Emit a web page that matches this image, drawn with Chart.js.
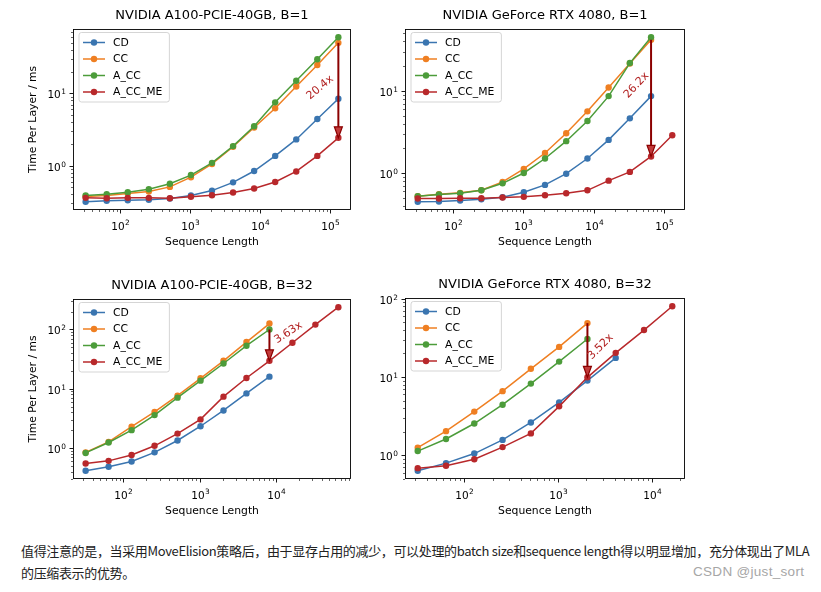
<!DOCTYPE html>
<html>
<head>
<meta charset="utf-8">
<script src="https://cdn.jsdelivr.net/npm/chart.js@4.4.1/dist/chart.umd.min.js"></script>
<style>
    body { margin: 0; background: #fff; }
    #page { position: relative; width: 821px; height: 592px; overflow: hidden; }
    #page canvas { position: absolute; }
    .note { position: absolute; left: 21px; top: 540px; font: 13px "Noto Sans CJK SC", sans-serif; line-height: 21.5px; letter-spacing: -0.35px; color: #222; white-space: nowrap; }
    .mark { position: absolute; left: 693px; top: 564px; font: 13.5px "Liberation Sans", sans-serif; letter-spacing: 0.3px; color: #a6a6a6; }
</style>
</head>
<body>
<div id="page">
    <div class="note">值得注意的是，当采用MoveElision策略后，由于显存占用的减少，可以处理的batch size和sequence length得以明显增加，充分体现出了MLA<br>的压缩表示的优势。</div>
    <div class="mark">CSDN @just_sort</div>
</div>
<script>
// sequence lengths (x)
var seqLen = [32, 64, 128, 256, 512, 1024, 2048, 4096, 8192, 16384, 32768, 65536, 131072];

var seriesNames = ['CD', 'CC', 'A_CC', 'A_CC_ME'];
var seriesColors = ['#3a75b0', '#ef7f22', '#4c9c3a', '#b8282b'];

// A100, B=1
var a100B1_CD = [0.315, 0.325, 0.33, 0.336, 0.35, 0.385, 0.45, 0.585, 0.84, 1.36, 2.3, 4.4, 8.4];
var a100B1_CC = [0.372, 0.385, 0.41, 0.437, 0.506, 0.69, 1.05, 1.82, 3.36, 6.2, 12.4, 24.7, 50];
var a100B1_ACC = [0.385, 0.40, 0.427, 0.469, 0.56, 0.738, 1.09, 1.86, 3.5, 7.5, 14.9, 29.6, 59.8];
var a100B1_ME = [0.357, 0.353, 0.357, 0.357, 0.353, 0.369, 0.388, 0.423, 0.48, 0.593, 0.828, 1.36, 2.42];

// RTX 4080, B=1
var rtxB1_CD = [0.446, 0.45, 0.462, 0.479, 0.506, 0.582, 0.716, 0.98, 1.5, 2.53, 4.63, 8.63];
var rtxB1_CC = [0.521, 0.551, 0.573, 0.615, 0.778, 1.12, 1.75, 3.05, 5.63, 11, 21.5, 41.9];
var rtxB1_ACC = [0.521, 0.546, 0.566, 0.615, 0.748, 1.0, 1.5, 2.44, 4.3, 8.63, 21.8, 45];
var rtxB1_ME = [0.489, 0.489, 0.493, 0.493, 0.502, 0.512, 0.535, 0.566, 0.615, 0.807, 1.03, 1.59, 2.88];

// A100, B=32
var a100B32_CD = [0.414, 0.482, 0.591, 0.845, 1.34, 2.33, 4.3, 8.35, 16.0];
var a100B32_CC = [0.845, 1.27, 2.29, 4.07, 7.64, 15, 29.6, 61.4, 126];
var a100B32_ACC = [0.826, 1.24, 2.0, 3.59, 7.08, 13.7, 26.7, 53.3, 100];
var a100B32_ME = [0.547, 0.607, 0.764, 1.09, 1.75, 3.04, 7.36, 15.2, 29.6, 59.8, 121, 238];

// RTX 4080, B=32
var rtxB32_CD = [0.633, 0.792, 1.05, 1.57, 2.62, 4.73, 8.98, 17.5];
var rtxB32_CC = [1.25, 2.03, 3.61, 6.58, 12.7, 24.2, 48.7];
var rtxB32_ACC = [1.13, 1.61, 2.54, 4.42, 8.22, 15.7, 30.5];
var rtxB32_ME = [0.684, 0.733, 0.889, 1.27, 1.9, 4.21, 9.89, 20.3, 39.7, 80];

var FONT = '"DejaVu Sans", sans-serif';
var PAD_L = 73, PAD_T = 29, PAD_R = 10, PAD_B = 42;

var panels = [
    { title: 'NVIDIA A100-PCIE-40GB, B=1', area: [73, 29, 351, 210], yLabel: true,
      series: [a100B1_CD, a100B1_CC, a100B1_ACC, a100B1_ME],
      note: { x: 131072, from: a100B1_CC[12], to: a100B1_ME[12], text: '20.4x', tx: 72000, ty: 12, rot: -40 } },
    { title: 'NVIDIA GeForce RTX 4080, B=1', area: [405, 29, 685, 210], yLabel: false,
      series: [rtxB1_CD, rtxB1_CC, rtxB1_ACC, rtxB1_ME],
      note: { x: 65536, from: rtxB1_CC[11], to: rtxB1_ME[11], text: '26.2x', tx: 40800, ty: 11.7, rot: -47 } },
    { title: 'NVIDIA A100-PCIE-40GB, B=32', area: [73, 299, 351, 479], yLabel: true,
      series: [a100B32_CD, a100B32_CC, a100B32_ACC, a100B32_ME],
      note: { x: 8192, from: a100B32_ACC[8], to: a100B32_ME[8], text: '3.63x', tx: 14500, ty: 88, rot: -33 } },
    { title: 'NVIDIA GeForce RTX 4080, B=32', area: [405, 298, 685, 479], yLabel: false,
      series: [rtxB32_CD, rtxB32_CC, rtxB32_ACC, rtxB32_ME],
      note: { x: 2048, from: rtxB32_CC[6], to: rtxB32_ME[6], text: '3.52x', tx: 2830, ty: 24.2, rot: -45 } }
];

// matplotlib style 5% margins in log space
function logLimits(lo, hi) {
    var a = Math.log10(lo), b = Math.log10(hi), m = (b - a) * 0.05;
    return [Math.pow(10, a - m), Math.pow(10, b + m)];
}

function decadeTicks(min, max) {
    var out = [];
    for (var e = Math.floor(Math.log10(min)); e <= Math.ceil(Math.log10(max)); e++) {
        for (var m = 1; m < 10; m++) {
            var v = m * Math.pow(10, e);
            if (v >= min && v <= max) out.push({ v: v, e: e, major: m === 1 });
        }
    }
    return out;
}

function drawPow(ctx, e, x, y, align) {
    ctx.font = '10.5px ' + FONT;
    var w1 = ctx.measureText('10').width;
    ctx.font = '7.4px ' + FONT;
    var w2 = ctx.measureText(String(e)).width;
    var left = align === 'right' ? x - w1 - w2 - 0.5 : x - (w1 + w2 + 0.5) / 2;
    ctx.textAlign = 'left';
    ctx.textBaseline = 'alphabetic';
    ctx.font = '10.5px ' + FONT;
    ctx.fillText('10', left, y);
    ctx.font = '7.4px ' + FONT;
    ctx.fillText(String(e), left + w1 + 0.5, y - 4.4);
}

var mplPlugin = {
    id: 'mpl',
    afterDraw: function (chart) {
        var ctx = chart.ctx;
        var a = chart.chartArea;
        var xs = chart.scales.x, ys = chart.scales.y;
        var p = chart.options.plugins.mpl;
        ctx.save();
        ctx.fillStyle = '#000';
        ctx.strokeStyle = '#000';

        // tick marks + labels
        decadeTicks(xs.min, xs.max).forEach(function (t) {
            var px = Math.round(xs.getPixelForValue(t.v)) + 0.5;
            ctx.lineWidth = t.major ? 0.9 : 0.6;
            ctx.beginPath();
            ctx.moveTo(px, a.bottom);
            ctx.lineTo(px, a.bottom + (t.major ? 3.5 : 2));
            ctx.stroke();
            if (t.major) drawPow(ctx, t.e, px, a.bottom + 19.5, 'center');
        });
        decadeTicks(ys.min, ys.max).forEach(function (t) {
            var py = Math.round(ys.getPixelForValue(t.v)) + 0.5;
            ctx.lineWidth = t.major ? 0.9 : 0.6;
            ctx.beginPath();
            ctx.moveTo(a.left, py);
            ctx.lineTo(a.left - (t.major ? 3.5 : 2), py);
            ctx.stroke();
            if (t.major) drawPow(ctx, t.e, a.left - 7, py + 4.5, 'right');
        });

        // frame
        ctx.lineWidth = 0.9;
        ctx.strokeRect(a.left + 0.5, a.top + 0.5, a.right - a.left - 1, a.bottom - a.top - 1);

        // axis labels
        ctx.font = '10.8px ' + FONT;
        ctx.textAlign = 'center';
        ctx.textBaseline = 'alphabetic';
        ctx.fillText('Sequence Length', (a.left + a.right) / 2, a.bottom + 34.5);
        if (p.yLabel) {
            ctx.save();
            ctx.translate(a.left - 39.5, (a.top + a.bottom) / 2);
            ctx.rotate(-Math.PI / 2);
            ctx.textBaseline = 'middle';
            ctx.fillText('Time Per Layer / ms', 0, 0);
            ctx.restore();
        }

        // ratio arrow
        var n = p.note;
        var ax = xs.getPixelForValue(n.x);
        var y1 = ys.getPixelForValue(n.from), y2 = ys.getPixelForValue(n.to);
        ctx.strokeStyle = '#8b0000';
        ctx.lineWidth = 2;
        ctx.beginPath();
        ctx.moveTo(ax, y1);
        ctx.lineTo(ax, y2 - 9);
        ctx.stroke();
        ctx.beginPath();
        ctx.moveTo(ax, y2);
        ctx.lineTo(ax - 4, y2 - 11);
        ctx.lineTo(ax + 4, y2 - 11);
        ctx.closePath();
        ctx.fillStyle = '#c23a3a';
        ctx.fill();
        ctx.lineWidth = 1.2;
        ctx.stroke();

        ctx.save();
        ctx.translate(xs.getPixelForValue(n.tx), ys.getPixelForValue(n.ty));
        ctx.rotate(n.rot * Math.PI / 180);
        ctx.fillStyle = '#b22222';
        ctx.font = '11px ' + FONT;
        ctx.textAlign = 'center';
        ctx.textBaseline = 'middle';
        ctx.fillText(n.text, 0, 0);
        ctx.restore();

        // legend (upper left, inside axes)
        ctx.font = '10.8px ' + FONT;
        var tw = 0;
        seriesNames.forEach(function (s) { tw = Math.max(tw, ctx.measureText(s).width); });
        var bx = a.left + 5.5, by = a.top + 3, bw = 35 + tw + 6, bh = 69.5;
        ctx.beginPath();
        ctx.roundRect(bx + 0.5, by + 0.5, bw, bh, 2.5);
        ctx.fillStyle = 'rgba(255,255,255,0.8)';
        ctx.fill();
        ctx.strokeStyle = '#d0d0d0';
        ctx.lineWidth = 0.9;
        ctx.stroke();
        seriesNames.forEach(function (s, i) {
            var cy = a.top + 13.5 + i * 16.5;
            ctx.strokeStyle = seriesColors[i];
            ctx.fillStyle = seriesColors[i];
            ctx.lineWidth = 1.5;
            ctx.beginPath();
            ctx.moveTo(a.left + 10, cy);
            ctx.lineTo(a.left + 32, cy);
            ctx.stroke();
            ctx.beginPath();
            ctx.arc(a.left + 21, cy, 3.2, 0, Math.PI * 2);
            ctx.fill();
            ctx.fillStyle = '#000';
            ctx.textAlign = 'left';
            ctx.textBaseline = 'middle';
            ctx.fillText(s, a.left + 40, cy + 0.5);
        });
        ctx.restore();
    }
};

window.onload = function () {
    var page = document.getElementById('page');
    panels.forEach(function (p) {
        var l = p.area[0], t = p.area[1], r = p.area[2], b = p.area[3];
        var canvas = document.createElement('canvas');
        canvas.width = (r - l) + PAD_L + PAD_R;
        canvas.height = (b - t) + PAD_T + PAD_B;
        canvas.style.left = (l - PAD_L) + 'px';
        canvas.style.top = (t - PAD_T) + 'px';
        page.appendChild(canvas);

        var all = [];
        var maxLen = 0;
        p.series.forEach(function (vals) {
            all = all.concat(vals);
            maxLen = Math.max(maxLen, vals.length);
        });
        var xl = logLimits(seqLen[0], seqLen[maxLen - 1]);
        var yl = logLimits(Math.min.apply(null, all), Math.max.apply(null, all));

        new Chart(canvas.getContext('2d'), {
            type: 'line',
            data: {
                datasets: p.series.map(function (vals, i) {
                    return {
                        label: seriesNames[i],
                        data: vals.map(function (v, k) { return { x: seqLen[k], y: v }; }),
                        borderColor: seriesColors[i],
                        backgroundColor: seriesColors[i],
                        borderWidth: 1.5,
                        pointRadius: 3.2,
                        pointBorderWidth: 0,
                        pointHoverRadius: 3.2,
                        order: 3 - i
                    };
                })
            },
            options: {
                responsive: false,
                animation: false,
                devicePixelRatio: 1,
                events: [],
                layout: { padding: { left: 0, right: PAD_R, top: 0, bottom: 0 } },
                scales: {
                    x: {
                        type: 'logarithmic', min: xl[0], max: xl[1],
                        ticks: { display: false }, grid: { display: false }, border: { display: false },
                        afterFit: function (s) { s.height = PAD_B; }
                    },
                    y: {
                        type: 'logarithmic', min: yl[0], max: yl[1],
                        ticks: { display: false }, grid: { display: false }, border: { display: false },
                        afterFit: function (s) { s.width = PAD_L; }
                    }
                },
                plugins: {
                    legend: { display: false },
                    tooltip: { enabled: false },
                    title: {
                        display: true, text: p.title, fullSize: false, color: '#000',
                        font: { family: FONT, size: 13, weight: 'normal' },
                        padding: { top: 7.5, bottom: 5.9 }
                    },
                    mpl: { yLabel: p.yLabel, note: p.note }
                }
            },
            plugins: [mplPlugin]
        });
    });
};
</script>
</body>
</html>
